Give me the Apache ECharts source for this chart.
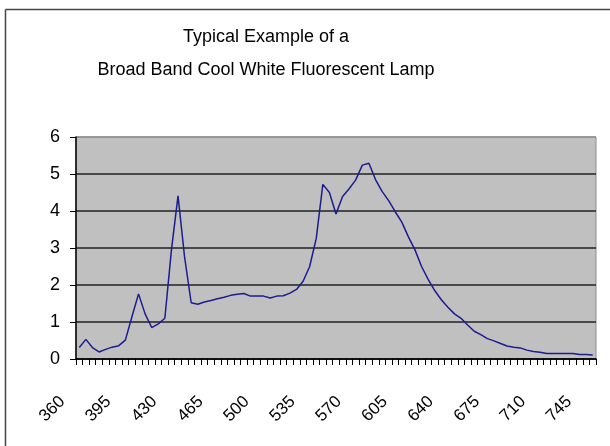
<!DOCTYPE html>
<html>
<head>
<meta charset="utf-8">
<script src="https://cdn.jsdelivr.net/npm/echarts@6/dist/echarts.min.js"></script>
<style>
html,body{margin:0;padding:0;background:#fff;overflow:hidden;}
#chart{width:610px;height:446px;}
</style>
</head>
<body>
<div id="chart"></div>
<script>
var titleLines = ['Typical Example of a', 'Broad Band Cool White Fluorescent Lamp'];
var wavelengths = [];
for (var w = 360; w <= 750; w += 5) wavelengths.push(String(w));
var intensity = [
  0.31, 0.53, 0.31, 0.19, 0.26, 0.32, 0.36, 0.51, 1.14, 1.76,
  1.22, 0.85, 0.95, 1.10, 2.95, 4.41, 2.75, 1.52, 1.48, 1.54,
  1.58, 1.63, 1.67, 1.72, 1.75, 1.77, 1.70, 1.70, 1.70, 1.65,
  1.70, 1.71, 1.78, 1.88, 2.10, 2.50, 3.26, 4.72, 4.50, 3.92,
  4.39, 4.60, 4.84, 5.24, 5.29, 4.85, 4.53, 4.28, 3.98, 3.70,
  3.30, 2.95, 2.50, 2.15, 1.85, 1.60, 1.40, 1.22, 1.10, 0.92,
  0.75, 0.66, 0.55, 0.49, 0.42, 0.35, 0.32, 0.30, 0.24, 0.20,
  0.18, 0.15, 0.15, 0.15, 0.15, 0.15, 0.12, 0.12, 0.11
];
var yTicks = [0, 1, 2, 3, 4, 5, 6];

var chart = echarts.init(document.getElementById('chart'));
var font = '"Liberation Sans", Arial, sans-serif';
chart.setOption({
  animation: false,
  backgroundColor: '#ffffff',
  graphic: [
    {type: 'line', shape: {x1: 5.5, y1: 9.5, x2: 610, y2: 9.5}, style: {stroke: '#444', lineWidth: 1.5}, silent: true},
    {type: 'line', shape: {x1: 5.5, y1: 9.5, x2: 5.5, y2: 446}, style: {stroke: '#444', lineWidth: 1.5}, silent: true},
    {type: 'text', x: 266, y: 37, style: {text: titleLines[0], font: '18px ' + font, fill: '#000', textAlign: 'center', textVerticalAlign: 'middle'}, silent: true},
    {type: 'text', x: 266, y: 70, style: {text: titleLines[1], font: '18px ' + font, fill: '#000', textAlign: 'center', textVerticalAlign: 'middle'}, silent: true}
  ],
  grid: {
    left: 76, right: 14, top: 137, bottom: 87,
    show: true, backgroundColor: '#c0c0c0', borderColor: '#8c8c8c', borderWidth: 1,
    containLabel: false
  },
  xAxis: {
    type: 'category',
    data: wavelengths,
    boundaryGap: true,
    axisLine: {show: true, lineStyle: {color: '#000', width: 1.5}},
    axisTick: {show: true, interval: 0, length: 6, lineStyle: {color: '#000', width: 1}},
    axisLabel: {
      interval: 6, rotate: 45, margin: 23, padding: [0, 24, 0, 0],
      color: '#000', fontSize: 17, fontFamily: font
    },
    splitLine: {show: false}
  },
  yAxis: {
    type: 'value',
    min: yTicks[0], max: yTicks[yTicks.length - 1], interval: 1,
    axisLine: {show: true, lineStyle: {color: '#000', width: 1.5}},
    axisTick: {show: true, length: 6, lineStyle: {color: '#000', width: 1}},
    axisLabel: {margin: 16, color: '#000', fontSize: 18, fontFamily: font},
    splitLine: {show: true, lineStyle: {color: ['#222', '#222', '#222', '#222', '#222', '#222', '#8c8c8c'], width: 1.5}}
  },
  series: [{
    type: 'line',
    data: intensity,
    symbol: 'none',
    smooth: false,
    lineStyle: {color: '#1c1c8e', width: 1.5}
  }]
});
</script>
</body>
</html>
